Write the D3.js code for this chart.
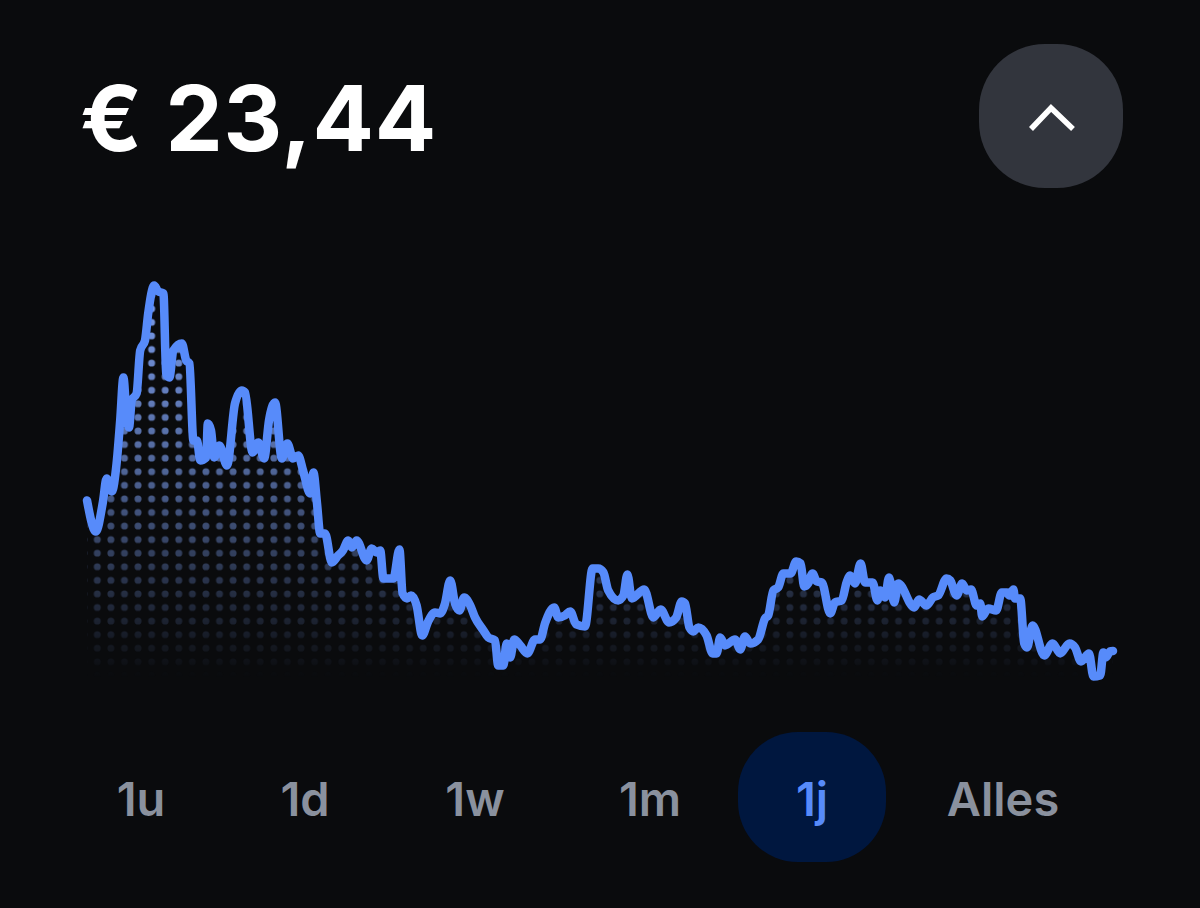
<!DOCTYPE html>
<html>
<head>
<meta charset="utf-8">
<title>Koers</title>
<script src="https://cdn.jsdelivr.net/npm/d3@7"></script>
<style>
  html, body { margin: 0; padding: 0; background: #0a0b0d; }
  svg { display: block; }
  text { font-family: "Inter", "Liberation Sans", sans-serif; }
</style>
</head>
<body>
<div id="chart-area"></div>
<script>
// values
const priceLabel = "€ 23,44";
const ranges = ["1u", "1d", "1w", "1m", "1j", "Alles"];
const activeRange = "1j";

// position along the year, in samples
const samples = [
  0, 2.2, 4, 4.9, 6.2, 7.4, 8.3, 9.1, 9.9, 10.5, 11.2, 12.4, 13.3, 14.5, 15.3, 16.8, 17.8, 19.1, 19.8, 20.6,
  21.6, 23.7, 24.8, 25.6, 26.6, 27.5, 28.3, 29.8, 30.2, 31, 31.8, 33.1, 35, 37, 38.7, 39.5, 41.4, 42.8, 44.3, 45.5,
  47, 48.7, 50.1, 51.5, 52.8, 54, 55.8, 56.6, 57.5, 58.3, 59.5, 61.2, 62.8, 64, 65.3, 66.2, 67.4, 69.9, 71.2, 72.4,
  73.3, 74.1, 76.6, 78.1, 78.9, 80, 81, 82.4, 83.8, 85.3, 87, 88.3, 89.5, 90.8, 92, 93.1, 94.3, 95.8, 97, 99.1,
  100.3, 102, 102.8, 104.1, 104.9, 105.8, 106.8, 108.3, 110.1, 112, 113.3, 114.5, 116.8, 117.8, 119.5, 120.8, 122.3, 124.5, 126.4, 127.8,
  129.1, 130.3, 132.8, 134.1, 135.1, 136.2, 139.3, 141.6, 143.4, 145.5, 147.3, 148.7, 149.5, 150.6, 151.6, 152.8, 154.9, 156.4, 157.4, 158.3,
  159.5, 162, 163.3, 164.5, 165.8, 167.8, 169.5, 170.3, 171.6, 172.8, 174.1, 175.9, 177.3, 178.4, 179.3, 180.3, 181.4, 182.4, 183.7, 185.8,
  187, 188.7, 189.9, 190.8, 192, 193.4, 194.5, 196.4, 197.6, 198.3, 199.5, 200.5, 201.8, 202.8, 206.8, 208, 209.9, 211.5, 212.8, 214.9,
  215.8, 217.4, 218.8, 219.9, 221, 222.4, 223.3, 223.8, 225.3, 227.3, 228.7, 230, 230.6, 231.6, 232, 233.3, 234.3, 235, 236.4, 239.3,
  241.4, 243.3, 245.6, 247, 248.5, 250.5, 251.6, 253.3, 254.1, 254.7, 255.8, 256.5
];

// price in euro at each sample
const prices = [
  38.5, 35.4, 38.4, 40.7, 39.4, 42.2, 46.5, 50.8, 46.8, 45.8, 48.5, 49.2, 53.5, 54.5, 57.2, 60, 59.4, 59.2, 51.2, 50.8,
  53.5, 54.2, 52.5, 52.2, 44.5, 44.5, 42.5, 42.8, 46.2, 45.5, 42.8, 44, 42, 48.2, 49.5, 49.3, 43.3, 44.3, 42.7, 46.5,
  48.3, 42.7, 44.2, 42.7, 43, 41.5, 39.2, 41.3, 38.2, 35.2, 35.2, 32.3, 33, 33.5, 34.5, 33.8, 34.5, 32.5, 33.7, 33.3,
  33.5, 30.7, 30.7, 33.6, 29.2, 28.7, 29, 28, 25, 26.4, 27.3, 27.2, 28.2, 30.5, 28.2, 27.5, 28.8, 28, 26.8, 25.5,
  24.8, 24.5, 22, 22, 24.2, 22.8, 24.6, 24, 23.2, 24.6, 24.6, 26.2, 27.8, 26.8, 27, 27.4, 26.1, 25.9, 31.7, 31.7,
  31.3, 29.5, 28.5, 29, 31.1, 28.7, 29.6, 26.8, 27.6, 26.3, 26.8, 28.4, 28.2, 25.8, 25.4, 25.8, 25, 23.2, 23.2, 24.8,
  24, 24.6, 23.6, 24.9, 24.2, 24.6, 26.7, 27, 29.5, 29.8, 31.2, 31.2, 32.4, 32.2, 29.9, 30.2, 31.2, 30.4, 30.3, 27.2,
  28.3, 28.5, 30.3, 31, 30.2, 32.2, 30.3, 30.3, 28.5, 29.5, 28.8, 30.8, 28.3, 30.2, 27.8, 28.6, 28, 28.8, 29, 30.7,
  30.5, 29, 30.2, 29.5, 29.6, 28, 28.2, 26.9, 27.7, 27.5, 29.3, 29.3, 29, 29.6, 28.7, 28.7, 24.2, 23.8, 26, 23,
  24.2, 23.2, 24.2, 23.8, 22.4, 23.2, 20.9, 21, 23.3, 22.8, 23.4, 23.44
];

const series = samples.map((s, i) => ({ sample: s, price: prices[i] }));

const width = 1200, height = 908;
const tabCentres = [141, 305, 475, 650, 812, 1003];

const svg = d3.select("#chart-area").append("svg")
  .attr("width", width)
  .attr("height", height);

svg.append("rect")
  .attr("width", width)
  .attr("height", height)
  .attr("fill", "#0a0b0d");

const x = d3.scaleLinear().domain([0, 256.5]).range([87, 1113]);
const y = d3.scaleLinear().domain([20, 60]).range([685.4, 285.4]);

// dot pattern and the fade towards the bottom
const defs = svg.append("defs");

const pitch = 13.58;
const pattern = defs.append("pattern")
  .attr("id", "dots")
  .attr("patternUnits", "userSpaceOnUse")
  .attr("x", 97.3 - pitch / 2)
  .attr("y", 471.7 - pitch / 2)
  .attr("width", pitch)
  .attr("height", pitch);

pattern.append("circle")
  .attr("cx", pitch / 2)
  .attr("cy", pitch / 2)
  .attr("r", 3.5)
  .attr("fill", "#7a9cec");

const fade = defs.append("linearGradient")
  .attr("id", "fade")
  .attr("gradientUnits", "userSpaceOnUse")
  .attr("x1", 0).attr("x2", 0)
  .attr("y1", 300).attr("y2", 678);

fade.append("stop").attr("offset", 0).attr("stop-color", "#fff").attr("stop-opacity", 1);
fade.append("stop").attr("offset", 0.45).attr("stop-color", "#fff").attr("stop-opacity", 0.62);
fade.append("stop").attr("offset", 0.75).attr("stop-color", "#fff").attr("stop-opacity", 0.27);
fade.append("stop").attr("offset", 1).attr("stop-color", "#fff").attr("stop-opacity", 0);

defs.append("mask")
  .attr("id", "fadeMask")
  .attr("maskUnits", "userSpaceOnUse")
  .attr("x", 0).attr("y", 0)
  .attr("width", width).attr("height", height)
  .append("rect")
  .attr("width", width)
  .attr("height", height)
  .attr("fill", "url(#fade)");

const area = d3.area()
  .x(d => x(d.sample))
  .y0(y(20))
  .y1(d => y(d.price));

const line = d3.line()
  .curve(d3.curveMonotoneX)
  .x(d => x(d.sample))
  .y(d => y(d.price));

svg.append("path")
  .datum(series)
  .attr("d", area)
  .attr("fill", "url(#dots)")
  .attr("mask", "url(#fadeMask)");

svg.append("path")
  .datum(series)
  .attr("d", line)
  .attr("fill", "none")
  .attr("stroke", "#578bfa")
  .attr("stroke-width", 8.5)
  .attr("stroke-linejoin", "round")
  .attr("stroke-linecap", "round");

// header
svg.append("text")
  .attr("x", 80)
  .attr("y", 151)
  .attr("font-size", 91)
  .attr("font-weight", 700)
  .attr("letter-spacing", 0.8)
  .attr("fill", "#ffffff")
  .text(priceLabel);

svg.append("rect")
  .attr("x", 979)
  .attr("y", 44)
  .attr("width", 144)
  .attr("height", 144)
  .attr("rx", 66)
  .attr("fill", "#32353d");

svg.append("path")
  .attr("d", d3.line()([[1031, 129], [1051, 108], [1073, 129]]))
  .attr("fill", "none")
  .attr("stroke", "#ffffff")
  .attr("stroke-width", 5.5);

// range tabs
svg.append("rect")
  .attr("x", 738)
  .attr("y", 732)
  .attr("width", 148)
  .attr("height", 130)
  .attr("rx", 60)
  .attr("fill", "#00173f");

svg.selectAll(".tab")
  .data(ranges)
  .enter().append("text")
  .attr("class", "tab")
  .attr("x", (d, i) => tabCentres[i])
  .attr("y", 816)
  .attr("text-anchor", "middle")
  .attr("font-size", 47)
  .attr("font-weight", 600)
  .attr("fill", d => d === activeRange ? "#578bfa" : "#8a919e")
  .text(d => d);
</script>
</body>
</html>
